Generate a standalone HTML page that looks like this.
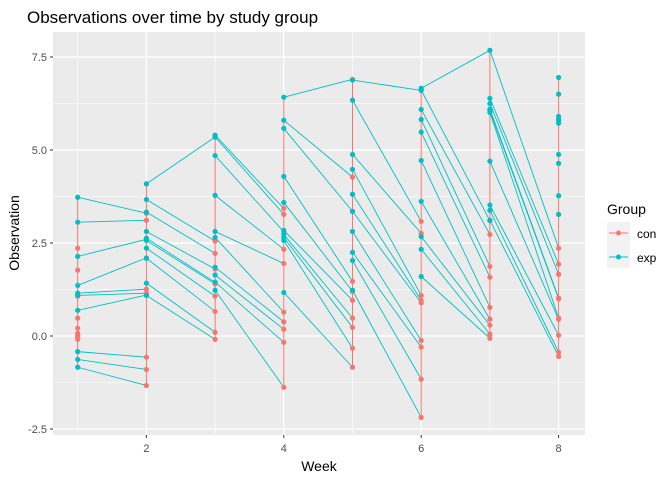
<!DOCTYPE html>
<html><head><meta charset="utf-8"><style>
body{margin:0;background:#fff;font-family:"Liberation Sans",sans-serif}
</style></head><body>
<svg id="chart" width="672" height="480" xmlns="http://www.w3.org/2000/svg" font-family="Liberation Sans, sans-serif">
<text x="27" y="23" font-size="17" fill="#000">Observations over time by study group</text>
<rect x="53" y="32" width="532" height="403" fill="#ebebeb"/>
<g id="grid"></g><g id="lines"></g><g id="pts"></g><g id="axes"></g>
<text x="319" y="471" text-anchor="middle" font-size="14" fill="#000">Week</text>
<text transform="translate(19,233) rotate(-90)" text-anchor="middle" font-size="14" fill="#000">Observation</text>
<g>
<text x="607" y="214" font-size="14" fill="#000">Group</text>
<rect x="607" y="222" width="23" height="46" fill="#f2f2f2"/>
<g><line x1="609" x2="628" y1="233" y2="233" stroke="#F8766D"/><circle cx="618.5" cy="233" r="2.5" fill="#F8766D"/><text x="637" y="238" font-size="12" fill="#000">con</text></g>
<g><line x1="609" x2="628" y1="257" y2="257" stroke="#00BFC4"/><circle cx="618.5" cy="257" r="2.5" fill="#00BFC4"/><text x="637" y="262" font-size="12" fill="#000">exp</text></g>
</g>
</svg>
<script>
const weeks=[1,2,3,4,5,6,7,8];
const expVals=[
[3.73,3.06,2.14,1.36,1.15,1.09,0.69,-0.42,-0.63,-0.84],
[4.09,3.67,3.33,2.81,2.63,2.57,2.36,2.09,1.42,1.09],
[5.4,5.35,4.85,3.78,2.81,2.65,1.85,1.64,1.45,1.23],
[6.42,5.8,5.58,4.29,3.59,2.84,2.73,2.65,2.57,1.17],
[6.88,6.34,4.88,4.48,3.81,3.35,2.81,2.25,2.03,1.23],
[6.66,6.61,6.09,5.82,5.48,4.72,3.62,2.67,2.33,1.6],
[7.68,6.39,6.25,6.1,6.06,6.01,4.7,3.52,3.38,3.11],
[6.95,6.5,5.9,5.82,5.8,5.72,4.88,4.64,3.77,3.27]];
const conVals=[
[2.36,1.77,1.07,0.48,0.21,0.07,0.02,0.0,-0.05,-0.09],
[3.3,3.11,2.6,2.1,1.26,1.15,1.1,-0.57,-0.9,-1.33],
[5.35,2.55,2.22,1.8,1.44,1.4,1.07,0.66,0.1,-0.09],
[3.43,3.27,2.8,2.33,1.95,0.64,0.38,0.18,-0.17,-1.38],
[6.9,4.27,3.35,1.47,1.2,0.96,0.48,0.23,-0.33,-0.84],
[6.6,3.08,2.76,1.09,0.96,0.89,-0.12,-0.3,-1.16,-2.19],
[7.68,3.1,2.73,1.87,1.58,0.77,0.45,0.29,0.05,-0.06],
[2.36,1.93,1.66,1.02,1.0,0.48,0.45,0.02,-0.44,-0.55]];
const xTicks=[2,4,6,8];
const yTicks=[-2.5,0,2.5,5,7.5];
const yTickLabels=["-2.5","0.0","2.5","5.0","7.5"];
const X=w=>77.7+(w-1)*68.7;
const Y=v=>336-v*37.2;
const NS="http://www.w3.org/2000/svg";
function mk(p,t,a){const e=document.createElementNS(NS,t);for(const k in a)e.setAttribute(k,a[k]);p.appendChild(e);return e;}
const grid=document.getElementById('grid'),lines=document.getElementById('lines'),pts=document.getElementById('pts'),axes=document.getElementById('axes');
[1,3,5,7].forEach(w=>{const l=mk(grid,'line',{x1:X(w),x2:X(w),y1:32,y2:435,stroke:'#fff','stroke-width':0.6});

});
[-1.25,1.25,3.75,6.25].forEach(v=>{const l=mk(grid,'line',{x1:53,x2:585,y1:Y(v),y2:Y(v),stroke:'#fff','stroke-width':0.6});

});
xTicks.forEach(w=>{const l=mk(grid,'line',{x1:X(w),x2:X(w),y1:32,y2:435,stroke:'#fff','stroke-width':1.2});


mk(axes,'line',{x1:X(w),x2:X(w),y1:435,y2:438,stroke:'#333'});
const t=mk(axes,'text',{x:X(w),y:452,'text-anchor':'middle','font-size':11,fill:'#4d4d4d'});t.textContent=w;

});
yTicks.forEach((v,i)=>{const l=mk(grid,'line',{x1:53,x2:585,y1:Y(v),y2:Y(v),stroke:'#fff','stroke-width':1.2});


mk(axes,'line',{x1:50,x2:53,y1:Y(v),y2:Y(v),stroke:'#333'});
const t=mk(axes,'text',{x:47,y:Y(v)+4,'text-anchor':'end','font-size':11,fill:'#4d4d4d'});t.textContent=yTickLabels[i];

});
weeks.forEach((w,k)=>{
 const all=expVals[k].concat(conVals[k]);
 const l=mk(lines,'line',{x1:X(w),x2:X(w),y1:Y(Math.max(...all)),y2:Y(Math.min(...all)),stroke:'#F8766D','stroke-width':1});
 
 
 if(k<weeks.length-1){expVals[k].forEach((v,i)=>{
  const s=mk(lines,'line',{x1:X(w),y1:Y(v),x2:X(weeks[k+1]),y2:Y(conVals[k+1][i]),stroke:'#00BFC4','stroke-width':0.9});
  
  });}
});
weeks.forEach((w,k)=>{
 conVals[k].forEach(v=>{const c=mk(pts,'circle',{cx:X(w),cy:Y(v),r:2.6,fill:'#F8766D'});
 
 });
 expVals[k].forEach(v=>{const c=mk(pts,'circle',{cx:X(w),cy:Y(v),r:2.6,fill:'#00BFC4'});
 
 });
});
</script>
</body></html>
